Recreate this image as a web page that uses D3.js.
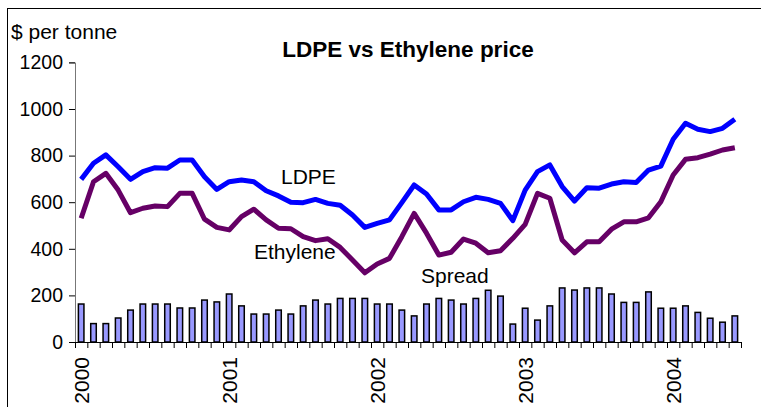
<!DOCTYPE html>
<html>
<head>
<meta charset="utf-8">
<script src="https://cdn.jsdelivr.net/npm/d3@7/dist/d3.min.js"></script>
<style>
  html, body { margin: 0; padding: 0; background: #fff; }
  svg { display: block; font-family: "Liberation Sans", Arial, sans-serif; }
</style>
</head>
<body>
<svg id="chart" width="761" height="407"></svg>
<script>
// ---- data ----
const years = ["2000", "2001", "2002", "2003", "2004"];
const months = [];
years.forEach(yr => { for (let m = 1; m <= 12; m++) months.push(yr + "-" + String(m).padStart(2, "0")); });
const categories = months.slice(0, 54); // Jan 2000 .. Jun 2004

const ldpe = [698, 767, 803, 752, 698, 731, 748, 746, 781, 781, 709, 655,
              688, 695, 688, 649, 627, 600, 598, 612, 595, 587, 545, 492,
              509, 524, 598, 674, 635, 567, 567, 602, 621, 612, 595, 521,
              652, 731, 760, 667, 605, 662, 660, 678, 688, 685, 738, 755,
              870, 939, 913, 903, 917, 956];
const ethylene = [531, 688, 724, 652, 555, 574, 584, 581, 638, 638, 527, 492,
                  481, 538, 570, 524, 488, 486, 452, 435, 443, 406, 352, 297,
                  335, 359, 452, 552, 467, 373, 385, 442, 424, 383, 392, 445,
                  505, 638, 617, 438, 383, 430, 430, 484, 516, 516, 533, 602,
                  717, 784, 791, 806, 824, 834];
const spread = [163, 79, 79, 103, 137, 163, 163, 163, 146, 146, 180, 172,
                206, 155, 120, 120, 137, 120, 155, 180, 163, 187, 187, 187,
                163, 163, 137, 112, 163, 187, 180, 163, 187, 222, 197, 77,
                145, 94, 155, 232, 223, 232, 232, 206, 170, 170, 215, 145,
                145, 155, 127, 102, 85, 112];
const yTicks = [0, 200, 400, 600, 800, 1000, 1200];

// ---- layout ----
const svg = d3.select("#chart");
const mLeft = 75, mRight = 741, mBottom = 342, mTop = 62.4;

const x = d3.scaleBand().domain(categories).range([mLeft, mRight]).padding(0);
const xEdge = d3.scaleLinear().domain([0, categories.length]).range([mLeft, mRight]);
const y = d3.scaleLinear().domain([0, 1200]).range([mBottom, mTop]);

// frame
svg.append("rect").attr("x", 7.5).attr("y", 8.5).attr("width", 800).attr("height", 500)
  .attr("fill", "none").attr("stroke", "#000").attr("stroke-width", 1);

// bars
const bw = x.bandwidth() * 0.45;
svg.append("g").selectAll("rect").data(spread).join("rect")
  .attr("x", (d, i) => x(categories[i]) + x.bandwidth() / 2 - bw / 2)
  .attr("y", d => y(d))
  .attr("width", bw)
  .attr("height", d => y(0) - y(d))
  .attr("fill", "#9999ff")
  .attr("stroke", "#000")
  .attr("stroke-width", 1.5);

// y axis
const yAxis = svg.append("g").attr("transform", `translate(${mLeft},0)`)
  .call(d3.axisLeft(y).tickValues(yTicks).tickSize(6).tickPadding(6).tickFormat(d3.format("d")));
yAxis.select(".domain").attr("stroke", "#777");
yAxis.selectAll(".tick line").attr("stroke", "#000");
yAxis.selectAll(".tick text").attr("font-size", 19.5).attr("fill", "#000")
  .attr("font-family", "Liberation Sans, Arial, sans-serif");

// x axis
const xAxis = svg.append("g").attr("transform", `translate(0,${mBottom})`)
  .call(d3.axisBottom(xEdge).tickValues(d3.range(categories.length + 1)).tickSize(6).tickFormat(""));
xAxis.select(".domain").attr("stroke", "#000").attr("d", `M${mLeft},0.5H${mRight}`);
xAxis.selectAll(".tick line").attr("stroke", "#000");

// year labels
svg.append("g").selectAll("text").data(years).join("text")
  .attr("transform", d => `translate(${x(d + "-01") + x.bandwidth() / 2},357) rotate(-90)`)
  .attr("text-anchor", "end")
  .attr("dy", "0.35em")
  .attr("font-size", 21)
  .text(d => d);

// lines
const line = d3.line().x((d, i) => x(categories[i]) + x.bandwidth() / 2).y(d => y(d));
svg.append("path").datum(ethylene).attr("d", line)
  .attr("fill", "none").attr("stroke", "#660066").attr("stroke-width", 5).attr("stroke-linejoin", "round");
svg.append("path").datum(ldpe).attr("d", line)
  .attr("fill", "none").attr("stroke", "#0000ff").attr("stroke-width", 5).attr("stroke-linejoin", "round");

// texts
svg.append("text").attr("x", 408).attr("y", 57).attr("text-anchor", "middle")
  .attr("font-size", 22.5).attr("font-weight", "bold").text("LDPE vs Ethylene price");
svg.append("text").attr("x", 11).attr("y", 39).attr("font-size", 21).text("$ per tonne");
svg.append("text").attr("x", 281).attr("y", 184).attr("font-size", 21).text("LDPE");
svg.append("text").attr("x", 254).attr("y", 259).attr("font-size", 21).text("Ethylene");
svg.append("text").attr("x", 421).attr("y", 283).attr("font-size", 21).text("Spread");
</script>
</body>
</html>
